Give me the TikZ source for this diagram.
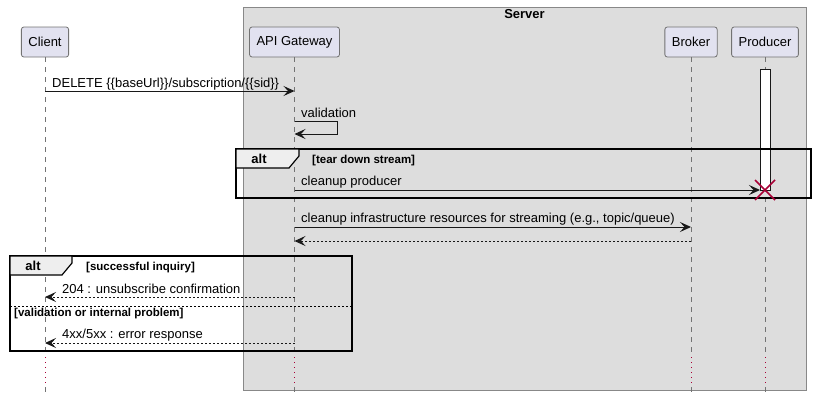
\documentclass[tikz,border=0pt]{standalone}
\usepackage{fontspec}
\setmainfont{Liberation Sans}
\usepackage{tikz}
\usetikzlibrary{arrows.meta, positioning}

\definecolor{partfill}{HTML}{E2E2F0}
\definecolor{partline}{HTML}{181818}
\definecolor{serverfill}{HTML}{DDDDDD}
\definecolor{serverline}{HTML}{888888}
\definecolor{tabfill}{HTML}{EEEEEE}
\definecolor{destroyred}{HTML}{A80036}

\begin{document}
\begin{tikzpicture}[x=1pt, y=-1pt,
    participant/.style={rectangle, rounded corners=2.5pt, draw=black!55, line width=0.8pt, fill=partfill, minimum height=30pt, inner xsep=7pt, font=\fontsize{13}{15}\selectfont},
    msglabel/.style={anchor=base west, inner sep=0pt, font=\fontsize{13}{15}\selectfont},
    guard/.style={anchor=base west, inner sep=0pt, font=\bfseries\fontsize{11.5}{13}\selectfont},
    altname/.style={anchor=base, inner sep=0pt, font=\bfseries\fontsize{13}{15}\selectfont},
    lifeline/.style={draw=black!55, line width=0.8pt, dash pattern=on 5pt off 5pt},
    lifeend/.style={draw=destroyred, line width=1pt, dash pattern=on 1.2pt off 3.8pt},
    arrow/.style={-{Stealth[length=11pt, width=10pt, inset=4.5pt]}, draw=partline, line width=1pt},
    dasharrow/.style={arrow, dash pattern=on 2pt off 2pt},
    altframe/.style={draw=black, line width=1.5pt},
    alttab/.style={draw=black, line width=1.2pt, fill=tabfill},
    activation/.style={draw=partline, line width=1pt, fill=white},
    destroy/.style={draw=destroyred, line width=1.5pt}
]
\useasboundingbox (0,0) rectangle (816,402);

% Server box
\draw[draw=serverline, line width=1pt, fill=serverfill] (243,7) rectangle (806,390);
\node[altname] (servertitle) at (524.5,18) {Server};

% Participants
\node[participant] (client) at (45,42) {Client};
\node[participant] (gateway) at (294.5,42) {API Gateway};
\node[participant] (broker) at (691,42) {Broker};
\node[participant] (producer) at (765,42) {Producer};

% Lifelines
\foreach \p in {client, gateway, broker, producer} {
  \draw[lifeline] (\p.south) -- (\p |- 0,356);
  \draw[lifeend] (\p |- 0,357) -- (\p |- 0,384);
  \draw[lifeline] (\p |- 0,387) -- (\p |- 0,392);
}
\draw[activation] (760,69) rectangle (770,190);

% Messages
\coordinate (m1a) at (client |- 0,91);
\coordinate (m1b) at (gateway |- 0,91);
\draw[arrow] (m1a) -- (m1b);
\node[msglabel] (m1text) at (52,87) {DELETE \{\{baseUrl\}\}/subscription/\{\{sid\}\}};

\coordinate (v1) at (gateway |- 0,121);
\coordinate (v2) at (gateway |- 0,134);
\draw[arrow] (v1) -- ++(43,0) |- (v2);
\node[msglabel] (v1text) at (301,117) {validation};

% alt: tear down stream
\draw[altframe] (236,149) rectangle (811,198);
\draw[alttab] (236,149) -- (299,149) -- (299,156) -- (289,168) -- (236,168) -- cycle;
\node[altname] (alt1) at (259,163) {alt};
\node[guard] (alt1guard) at (312,163) {[tear down stream]};

\coordinate (m3a) at (gateway |- 0,190);
\coordinate (m3b) at (producer |- 0,190);
\draw[arrow, shorten >=5pt] (m3a) -- (m3b);
\node[msglabel] (m3text) at (301,185) {cleanup producer};
\draw[destroy] (m3b) ++(-10,-10) -- ++(20,20) ++(-20,0) -- ++(20,-20);

\coordinate (m4a) at (gateway |- 0,227);
\coordinate (m4b) at (broker |- 0,227);
\draw[arrow] (m4a) -- (m4b);
\node[msglabel] (m4text) at (301,222.5) {cleanup infrastructure resources for streaming (e.g., topic/queue)};

\coordinate (m5a) at (broker |- 0,241);
\coordinate (m5b) at (gateway |- 0,241);
\draw[dasharrow] (m5a) -- (m5b);

% alt: responses
\draw[altframe] (10,256) rectangle (352,351);
\draw[alttab] (10,256) -- (72,256) -- (72,263) -- (62,275) -- (10,275) -- cycle;
\node[altname] (alt2) at (33,270) {alt};
\node[guard] (alt2guard) at (86,270) {[successful inquiry]};

\coordinate (m6a) at (gateway |- 0,297);
\coordinate (m6b) at (client |- 0,297);
\draw[dasharrow] (m6a) -- (m6b);
\node[msglabel] (m6text) at (62,293) {204 : unsubscribe confirmation};

\draw[draw=black, line width=0.8pt, dash pattern=on 2pt off 2pt] (10,306) -- (352,306);
\node[guard] (alt2else) at (14,316.5) {[validation or internal problem]};

\coordinate (m7a) at (gateway |- 0,343);
\coordinate (m7b) at (client |- 0,343);
\draw[dasharrow] (m7a) -- (m7b);
\node[msglabel] (m7text) at (62,338) {4xx/5xx : error response};

\end{tikzpicture}
\end{document}
